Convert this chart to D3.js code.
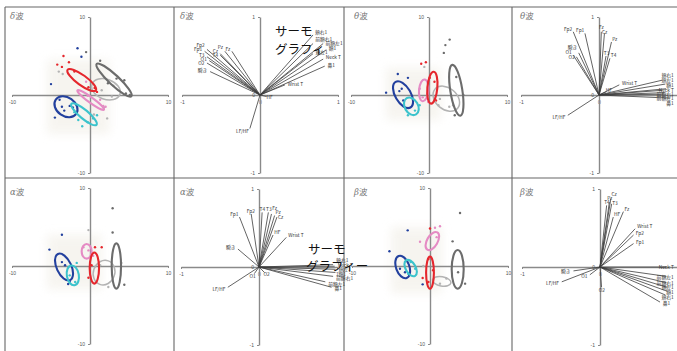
<!DOCTYPE html>
<html><head><meta charset="utf-8">
<script src="https://cdn.jsdelivr.net/npm/d3@7/dist/d3.min.js"></script>
<style>
html,body{margin:0;padding:0;background:#fff;}
svg{display:block;font-family:"Noto Sans CJK JP","Noto Sans",sans-serif;}
</style></head><body>
<svg id="chart" width="677" height="351"></svg>
<script>
// ---- group colours ----
const groupNames = ["red", "blue", "cyan", "pink", "darkgray", "lightgray"];
const groupColors = ["#e5262c", "#22409e", "#3cc3cc", "#e58bc4", "#6c6c6c", "#b3b3b3"];

// ---- principal component scores: [group, PC1, PC2] ----
const deltaPoints = [
  ["blue",-1.6,6.0],["darkgray",-0.5,5.5],["blue",-1.1,4.9],["blue",-5.0,1.4],["blue",-4.5,-2.9],
  ["blue",-3.6,-1.5],["blue",-3.3,-2.0],["blue",-2.6,-1.4],["blue",-2.2,-1.6],["blue",-3.9,-0.6],
  ["red",-3.4,5.0],["red",-4.2,3.9],["red",-3.6,3.6],["red",-2.7,4.2],["red",-0.2,1.0],["red",0.6,0.9],["red",0.9,0.4],["red",-2.0,3.0],
  ["darkgray",1.3,4.4],["darkgray",4.4,1.9],["darkgray",5.1,0.0],["darkgray",2.3,1.5],["darkgray",4.6,0.2],["darkgray",3.4,2.1],
  ["lightgray",1.5,0.6],["lightgray",2.8,-0.2],["lightgray",3.0,1.2],["lightgray",-3.5,2.7],["lightgray",-4.0,3.0],["lightgray",1.8,-1.6],["lightgray",2.2,-3.0],["lightgray",0.5,-2.5],
  ["pink",-0.5,1.7],["pink",1.3,-0.6],["pink",1.7,-1.4],["pink",-0.3,-0.1],["pink",2.0,-1.5],
  ["cyan",-1.5,-3.2],["cyan",-0.3,-3.5],["cyan",0.4,-3.0],["cyan",-1.0,-4.0],["cyan",0.9,-2.6],["cyan",-2.0,-2.2]
];
const thetaPoints = [
  ["darkgray",2.1,6.4],["darkgray",2.65,7.1],["darkgray",1.9,5.4],["darkgray",3.5,2.3],["darkgray",3.3,-2.6],["darkgray",4.4,0.0],
  ["blue",-4.0,2.7],["blue",-2.7,2.2],["blue",-5.5,0.3],["blue",-3.5,0.8],["blue",-3.8,0.5],["blue",-3.3,-0.7],
  ["cyan",-2.7,-2.6],["cyan",-1.8,-2.0],["cyan",-1.2,-1.3],
  ["red",-0.4,4.2],["red",-1.0,4.0],["red",0.1,2.2],["red",0.7,1.7],["red",0.9,-0.7],
  ["pink",-1.2,0.8],["pink",-0.8,-0.3],["pink",-0.1,-0.9],
  ["lightgray",1.4,-0.5],["lightgray",2.6,-1.5],["lightgray",1.2,-1.3],["lightgray",3.1,-1.3],["lightgray",-0.6,3.6]
];
const alphaPoints = [
  ["blue",-3.6,4.0],["blue",-5.2,2.1],["blue",-3.6,0.5],["blue",-3.2,0.1],["blue",-2.6,-2.0],["blue",-2.8,-2.3],
  ["cyan",-1.7,0.4],["cyan",-1.9,-2.05],["cyan",-2.6,-1.2],
  ["darkgray",2.9,7.4],["darkgray",2.9,4.3],["darkgray",4.4,-2.4],["darkgray",4.0,0.4],
  ["lightgray",-0.2,4.6],["lightgray",2.35,-2.7],["lightgray",1.3,0.1],
  ["red",0.64,2.4],["red",1.5,2.4],["red",-0.2,-1.5],["red",0.77,-2.05],["red",0.2,0.1],
  ["pink",-0.85,2.4],["pink",-0.2,2.0],["pink",0.4,1.3]
];
const betaPoints = [
  ["darkgray",3.85,6.8],["darkgray",2.9,3.16],["darkgray",4.5,-2.26],["darkgray",3.6,-0.8],
  ["blue",-2.86,4.57],["blue",-5.2,1.9],["blue",-0.94,-2.35],["blue",-3.85,-0.35],["blue",-3.2,-0.8],
  ["red",0.0,4.8],["red",-0.94,-1.54],["red",-0.2,-2.05],["red",0.4,-0.55],["red",-0.2,0.9],
  ["pink",-1.28,3.1],["pink",0.64,4.9],["pink",1.28,5.1],["pink",0.85,3.7],
  ["cyan",-2.48,0.5],["cyan",-2.8,-1.0],["cyan",-1.9,-0.35],
  ["lightgray",-0.85,0.0],["lightgray",1.28,-2.26],["lightgray",2.1,-1.6]
];

// ---- 95% ellipses: [group, centre PC1, centre PC2, semi-major, semi-minor, angle deg] ----
const deltaEllipses = [
  ["lightgray",2.05,0.73,1.9,1.28,-20],["darkgray",3.08,1.92,3.04,0.64,-43],["red",-1.06,1.92,2.24,0.64,-36],
  ["pink",0.09,-0.64,2.1,0.34,-36],["blue",-3.08,-1.5,1.6,1.2,-35],["cyan",-0.77,-2.47,2.1,0.56,-40]
];
const thetaEllipses = [
  ["lightgray",2.22,-0.47,1.9,1.37,-40],["darkgray",3.5,0.6,3.3,0.77,99],["blue",-3.33,0.04,1.9,1.0,-60],
  ["cyan",-2.26,-1.45,1.2,0.85,-60],["pink",-0.68,0.6,1.4,0.6,85],["red",0.43,0.94,2.05,0.64,85]
];
const alphaEllipses = [
  ["lightgray",1.8,-0.85,1.6,1.37,70],["darkgray",3.38,0.0,2.9,0.6,90],["blue",-3.33,-0.13,1.85,0.94,-65],
  ["cyan",-2.2,-1.2,1.28,0.77,-80],["pink",-0.43,1.88,0.94,0.64,90],["red",0.56,-0.26,2.0,0.6,90]
];
const betaEllipses = [
  ["lightgray",1.5,-1.97,1.2,0.6,-10],["darkgray",3.55,-0.43,2.48,0.77,90],["blue",-3.5,-0.13,1.5,0.85,-70],
  ["cyan",-2.48,-0.26,1.15,0.64,-60],["pink",0.3,3.2,1.28,0.68,60],["red",0.0,-0.85,2.05,0.5,90]
];

// pale cloud behind the scores: [x0, y0, x1, y1]
const deltaCloud = [-5.5,4.5,2.5,-5.0];
const thetaCloud = [-5.5,3.5,1.5,-3.2];
const alphaCloud = [-5.5,4.0,1.5,-3.0];
const betaCloud = [-5.0,5.0,1.5,-3.5];

// ---- factor loadings: [variable, PC1, PC2] ----
const deltaLoadings = [
  ["Fp1",-0.71,0.56],["Fp2",-0.68,0.585],["T3",-0.68,0.49],["O1",-0.65,0.44],["O2",-0.68,0.41],["瞬き",-0.64,0.30],
  ["Cz",-0.51,0.53],["T4",-0.51,0.51],["Pz",-0.45,0.56],["Fz",-0.36,0.56],
  ["頬右1",0.68,0.77],["前額右1",0.68,0.66],["前額左1",0.81,0.66],["額1",0.85,0.58],["頬左1",0.68,0.53],
  ["Neck T",0.81,0.46],["鼻1",0.83,0.37],["Wrist T",0.32,0.13],["HF",0.085,-0.02],["LF/HF",-0.13,-0.43]
];
const thetaLoadings = [
  ["Fp2",-0.33,0.81],["Fp1",-0.18,0.79],["瞬き",-0.26,0.54],["O1",-0.33,0.51],["O2",-0.29,0.49],
  ["Fz",0.03,0.81],["Cz",0.07,0.79],["Pz",0.16,0.68],["T3",0.09,0.5],["T4",0.14,0.47],
  ["Wrist T",0.26,0.13],["HF",0.09,0.04],["頬右1",0.81,0.19],["頬左1",0.85,0.14],["額1",0.86,0.08],
  ["前額左1",0.81,0.06],["Neck T",0.84,0.03],["前額右1",0.83,0.01],["鼻1",0.91,-0.04],["LF/HF",-0.4,-0.26]
];
const alphaLoadings = [
  ["Fp1",-0.25,0.64],["Fp2",-0.10,0.68],["T4",0.04,0.70],["T3",0.12,0.70],["Fz",0.16,0.68],["Pz",0.2,0.66],
  ["Cz",0.23,0.64],["HF",0.18,0.41],["Wrist T",0.35,0.38],["瞬き",-0.27,0.23],["O1",-0.06,-0.085],["O2",0.07,-0.07],
  ["LF/HF",-0.4,-0.26],["頬右1",0.95,0.03],["Neck T",0.97,0.01],["頬左1",0.98,-0.03],["額1",0.98,-0.07],
  ["前額右1",0.95,-0.12],["前額左1",0.85,-0.19],["鼻1",0.93,-0.26]
];
const betaLoadings = [
  ["Cz",0.14,0.88],["Pz",0.12,0.83],["T3",0.15,0.81],["T4",0.085,0.79],["Fz",0.3,0.71],["HF",0.17,0.64],
  ["Wrist T",0.45,0.49],["Fp2",0.43,0.41],["Fp1",0.43,0.30],["瞬き",-0.34,-0.05],["LF/HF",-0.49,-0.19],
  ["O1",-0.13,-0.1],["O2",0.02,-0.26],["Neck T",0.85,0.0],["前額左1",0.85,-0.12],["前額右1",0.85,-0.2],
  ["頬左1",0.86,-0.26],["額1",0.86,-0.31],["頬右1",0.84,-0.36],["鼻1",0.77,-0.45]
];

const scoreTicks = [-10, 10];
const loadingTicks = [-1, 0, 1];
const waveTitles = ["δ", "θ", "α", "β"];

// ---- layout ----
const svg = d3.select("#chart");
const color = d3.scaleOrdinal(groupNames, groupColors);
const HALF = 78;
const W = 677;

svg.append("defs").append("filter").attr("id", "soft")
  .attr("x", "-50%").attr("y", "-50%").attr("width", "200%").attr("height", "200%")
  .append("feGaussianBlur").attr("stdDeviation", 5);

const panels = [
  {kind:"score", w:0, cx:90,  cy:95,  tx:10,  ty:19,  pts:deltaPoints, ell:deltaEllipses, cloud:deltaCloud},
  {kind:"load",  w:0, cx:260, cy:95,  tx:180, ty:19,  loads:deltaLoadings},
  {kind:"score", w:1, cx:429, cy:95,  tx:354, ty:19,  pts:thetaPoints, ell:thetaEllipses, cloud:thetaCloud},
  {kind:"load",  w:1, cx:599, cy:95,  tx:520, ty:19,  loads:thetaLoadings},
  {kind:"score", w:2, cx:90,  cy:266, tx:10,  ty:195, pts:alphaPoints, ell:alphaEllipses, cloud:alphaCloud},
  {kind:"load",  w:2, cx:259, cy:267, tx:180, ty:195, loads:alphaLoadings},
  {kind:"score", w:3, cx:430, cy:266, tx:354, ty:195, pts:betaPoints, ell:betaEllipses, cloud:betaCloud},
  {kind:"load",  w:3, cx:600, cy:267, tx:520, ty:195, loads:betaLoadings}
];

// panel frame
const frame = svg.append("g").attr("stroke", "#666").attr("stroke-width", 1.1);
[5, 174, 344, 512].forEach(xv => frame.append("line").attr("x1", xv).attr("x2", xv).attr("y1", 7).attr("y2", 351));
[7, 178].forEach(yv => frame.append("line").attr("x1", 5).attr("x2", W).attr("y1", yv).attr("y2", yv));

function styleAxis(g) {
  g.select(".domain").attr("stroke", "#8a8a8a").attr("stroke-width", 1.4);
  g.selectAll(".tick line").attr("stroke", "#8a8a8a");
  g.selectAll(".tick text").attr("font-size", 5).attr("fill", "#555")
    .attr("font-family", "Liberation Sans, Arial, sans-serif");
}

// keep variable names inside the page and nudge colliding ones apart vertically
function tidyLabels(sel) {
  const nodes = sel.nodes();
  const edge = W - 3;
  nodes.forEach(n => {
    const b = n.getBBox();
    if (b.x + b.width > edge) n.setAttribute("x", +n.getAttribute("x") - (b.x + b.width - edge));
  });
  const box = n => {
    const b = n.getBBox();
    return {x: b.x, y: b.y + b.height * 0.22, w: b.width, h: b.height * 0.6};
  };
  for (let it = 0; it < 80; it++) {
    let moved = false;
    const boxes = nodes.map(box);
    for (let i = 0; i < nodes.length; i++) {
      for (let j = i + 1; j < nodes.length; j++) {
        const a = boxes[i], b = boxes[j];
        const ox = Math.min(a.x + a.w, b.x + b.w) - Math.max(a.x, b.x);
        const oy = Math.min(a.y + a.h, b.y + b.h) - Math.max(a.y, b.y);
        if (ox > 0.3 && oy > 0.3) {
          const s = oy / 2 + 0.2;
          const up = (a.y + a.h / 2) <= (b.y + b.h / 2) ? i : j;
          const dn = up === i ? j : i;
          nodes[up].setAttribute("y", +nodes[up].getAttribute("y") - s);
          nodes[dn].setAttribute("y", +nodes[dn].getAttribute("y") + s);
          boxes[up].y -= s; boxes[dn].y += s;
          moved = true;
        }
      }
    }
    if (!moved) break;
  }
}

panels.forEach(p => {
  const lim = p.kind === "score" ? 10 : 1;
  const x = d3.scaleLinear([-lim, lim], [p.cx - HALF, p.cx + HALF]);
  const y = d3.scaleLinear([-lim, lim], [p.cy + HALF, p.cy - HALF]);
  const ticks = p.kind === "score" ? scoreTicks : loadingTicks;
  // the right-most column runs off the page, so its far tick label is not drawn
  const xTicks = ticks.filter(v => x(v) <= W - 5);
  const g = svg.append("g");

  if (p.kind === "score") {
    const c = p.cloud;
    g.append("rect")
      .attr("x", x(c[0])).attr("y", y(c[1]))
      .attr("width", x(c[2]) - x(c[0])).attr("height", y(c[3]) - y(c[1]))
      .attr("fill", "#f1eee6").attr("opacity", 0.6).attr("filter", "url(#soft)");
  }

  g.append("g").attr("transform", `translate(0,${p.cy})`)
    .call(d3.axisBottom(x).tickValues(xTicks).tickSize(2).tickSizeOuter(0).tickFormat(d => String(d)))
    .call(styleAxis);
  g.append("g").attr("transform", `translate(${p.cx},0)`)
    .call(d3.axisLeft(y).tickValues(ticks).tickSize(2).tickSizeOuter(0).tickFormat(d => String(d)))
    .call(styleAxis);

  // panel title
  const t = g.append("text").attr("x", p.tx).attr("y", p.ty)
    .attr("font-size", 8.5).attr("fill", "#777");
  t.append("tspan").attr("font-style", "italic").attr("font-family", "DejaVu Serif, serif").text(waveTitles[p.w]);
  t.append("tspan").text("波");

  if (p.kind === "score") {
    g.append("g").selectAll("circle").data(p.pts).join("circle")
      .attr("cx", d => x(d[1])).attr("cy", d => y(d[2])).attr("r", 1.2)
      .attr("fill", d => color(d[0]));
    g.append("g").selectAll("ellipse").data(p.ell).join("ellipse")
      .attr("cx", d => x(d[1])).attr("cy", d => y(d[2]))
      .attr("rx", d => x(d[3]) - x(0)).attr("ry", d => x(d[4]) - x(0))
      .attr("transform", d => `rotate(${-d[5]},${x(d[1])},${y(d[2])})`)
      .attr("fill", "none").attr("stroke", d => color(d[0]))
      .attr("stroke-width", d => d[0] === "lightgray" ? 1.5 : 2.1);
  } else {
    g.append("g").selectAll("line").data(p.loads).join("line")
      .attr("x1", x(0)).attr("y1", y(0))
      .attr("x2", d => x(d[1])).attr("y2", d => y(d[2]))
      .attr("stroke", "#3c3c3c").attr("stroke-width", 0.8);
    const labels = g.append("g").selectAll("text").data(p.loads).join("text")
      .attr("x", d => {
        const len = Math.hypot(d[1], d[2]) || 1;
        return x(d[1]) + 3 * d[1] / len;
      })
      .attr("y", d => {
        const len = Math.hypot(d[1], d[2]) || 1;
        return y(d[2]) - 3 * d[2] / len + 1.8;
      })
      .attr("text-anchor", d => d[1] > 0.12 ? "start" : d[1] < -0.12 ? "end" : "middle")
      .attr("font-size", 4.8).attr("fill", "#333")
      .text(d => d[0]);
    tidyLabels(labels);
  }
});

// annotation over the thermography variables
const note = svg.append("g").attr("font-size", 12.5).attr("fill", "#111");
note.append("text").attr("x", 275).attr("y", 36).text("サーモ");
note.append("text").attr("x", 275).attr("y", 54).text("グラフィ");
note.append("text").attr("x", 308).attr("y", 254).text("サーモ");
note.append("text").attr("x", 306).attr("y", 271).text("グラフィー");
</script></body></html>
